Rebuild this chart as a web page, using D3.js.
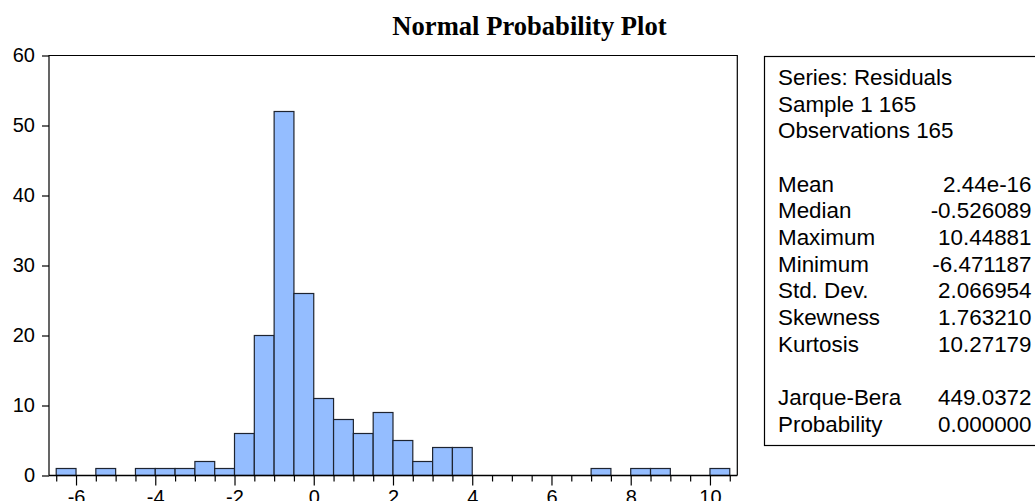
<!DOCTYPE html>
<html>
<head>
<meta charset="utf-8">
<script src="https://cdn.jsdelivr.net/npm/d3@7"></script>
<style>
  html, body { margin: 0; padding: 0; background: #fff; overflow: hidden; }
  svg { display: block; }
</style>
</head>
<body>
<svg id="chart" width="1035" height="501"></svg>
<script>
// ---- data ----
const binStarts = [-6.5, -6.0, -5.5, -5.0, -4.5, -4.0, -3.5, -3.0, -2.5, -2.0, -1.5, -1.0, -0.5,
                   0.0, 0.5, 1.0, 1.5, 2.0, 2.5, 3.0, 3.5, 4.0, 4.5, 5.0, 5.5, 6.0, 6.5,
                   7.0, 7.5, 8.0, 8.5, 9.0, 9.5, 10.0];
const counts    = [1, 0, 1, 0, 1, 1, 1, 2, 1, 6, 20, 52, 26,
                   11, 8, 6, 9, 5, 2, 4, 4, 0, 0, 0, 0, 0, 0,
                   1, 0, 1, 1, 0, 0, 1];
const binWidth = 0.5;
const xMajorTicks = [-6, -4, -2, 0, 2, 4, 6, 8, 10];
const xMinorTicks = [-6.5, -5.5, -5, -4.5, -3.5, -3, -2.5, -1.5, -1, -0.5, 0.5, 1, 1.5, 2.5, 3, 3.5,
                     4.5, 5, 5.5, 6.5, 7, 7.5, 8.5, 9, 9.5, 10.5];
const yTicks = [0, 10, 20, 30, 40, 50, 60];
const statLabels = ["Series: Residuals", "Sample 1 165", "Observations 165", "",
                    "Mean", "Median", "Maximum", "Minimum", "Std. Dev.", "Skewness", "Kurtosis", "",
                    "Jarque-Bera", "Probability"];
const statValues = ["", "", "", "",
                    "2.44e-16", "-0.526089", "10.44881", "-6.471187", "2.066954", "1.763210", "10.27179", "",
                    "449.0372", "0.000000"];
const title = "Normal Probability Plot";

// ---- layout ----
const svg = d3.select("#chart");
const L = 49, R = 737.3, T = 55.5, B = 475.5;

const x = d3.scaleLinear().domain([-6.682, 10.69]).range([L, R]);
const y = d3.scaleLinear().domain([0, 60]).range([B, T]);

// title
svg.append("text")
  .attr("x", 529.5).attr("y", 34.5)
  .attr("text-anchor", "middle")
  .attr("font-family", "'Liberation Serif', 'Times New Roman', serif")
  .attr("font-weight", "bold")
  .attr("font-size", 26.6)
  .attr("fill", "#000")
  .text(title);

// bars
const bars = binStarts.map((s, i) => ({ s, c: counts[i] })).filter(d => d.c > 0);
svg.append("g").selectAll("rect").data(bars).join("rect")
  .attr("x", d => x(d.s))
  .attr("y", d => y(d.c))
  .attr("width", d => x(d.s + binWidth) - x(d.s))
  .attr("height", d => y(0) - y(d.c))
  .attr("fill", "#94bdff")
  .attr("stroke", "#1e2430")
  .attr("stroke-width", 1.2);

// plot frame (top, right, left)
svg.append("path")
  .attr("d", `M${L},${B}V${T}H${R}V${B}`)
  .attr("fill", "none").attr("stroke", "#000").attr("stroke-width", 1.2);

// x axis
const fontSans = "'Liberation Sans', Arial, sans-serif";
const xAxisG = svg.append("g").attr("transform", `translate(0,${B})`);
xAxisG.append("g").attr("class", "minor")
  .call(d3.axisBottom(x).tickValues(xMinorTicks).tickSize(6).tickFormat(() => ""))
  .call(g => g.select(".domain").remove());
xAxisG.append("g").attr("class", "major")
  .call(d3.axisBottom(x).tickValues(xMajorTicks).tickSize(10).tickPadding(4.5).tickFormat(d3.format("d")))
  .call(g => g.select(".domain").remove());
xAxisG.append("line").attr("x1", L).attr("x2", R).attr("stroke", "#000").attr("stroke-width", 1.4);
xAxisG.selectAll(".tick line").attr("stroke", "#000").attr("stroke-width", 1.2);
xAxisG.selectAll(".major .tick text").attr("font-family", fontSans).attr("font-size", 20).attr("fill", "#000")
  .text(d => d < 0 ? "-" + Math.abs(d) : d);

// y axis
const yAxisG = svg.append("g").attr("transform", `translate(${L},0)`);
yAxisG.call(d3.axisLeft(y).tickValues(yTicks).tickSize(7).tickPadding(7))
  .call(g => g.select(".domain").remove());
yAxisG.selectAll(".tick line").attr("stroke", "#000").attr("stroke-width", 1.2);
yAxisG.selectAll(".tick text").attr("font-family", fontSans).attr("font-size", 20).attr("fill", "#000");

// stats box
const boxL = 764.5, boxT = 56.5, boxB = 445.5;
svg.append("rect")
  .attr("x", boxL).attr("y", boxT).attr("width", 400).attr("height", boxB - boxT)
  .attr("fill", "#fff").attr("stroke", "#000").attr("stroke-width", 1.2);

const lineH = 26.67, base0 = 85;
const statsG = svg.append("g").attr("font-family", fontSans).attr("font-size", 22.4).attr("fill", "#000");
statsG.selectAll("text.lab").data(statLabels).join("text")
  .attr("class", "lab")
  .attr("x", 778).attr("y", (d, i) => base0 + i * lineH)
  .text(d => d);
statsG.selectAll("text.val").data(statValues).join("text")
  .attr("class", "val")
  .attr("x", 1031.5).attr("y", (d, i) => base0 + i * lineH)
  .attr("text-anchor", "end")
  .text(d => d);
</script>
</body>
</html>
